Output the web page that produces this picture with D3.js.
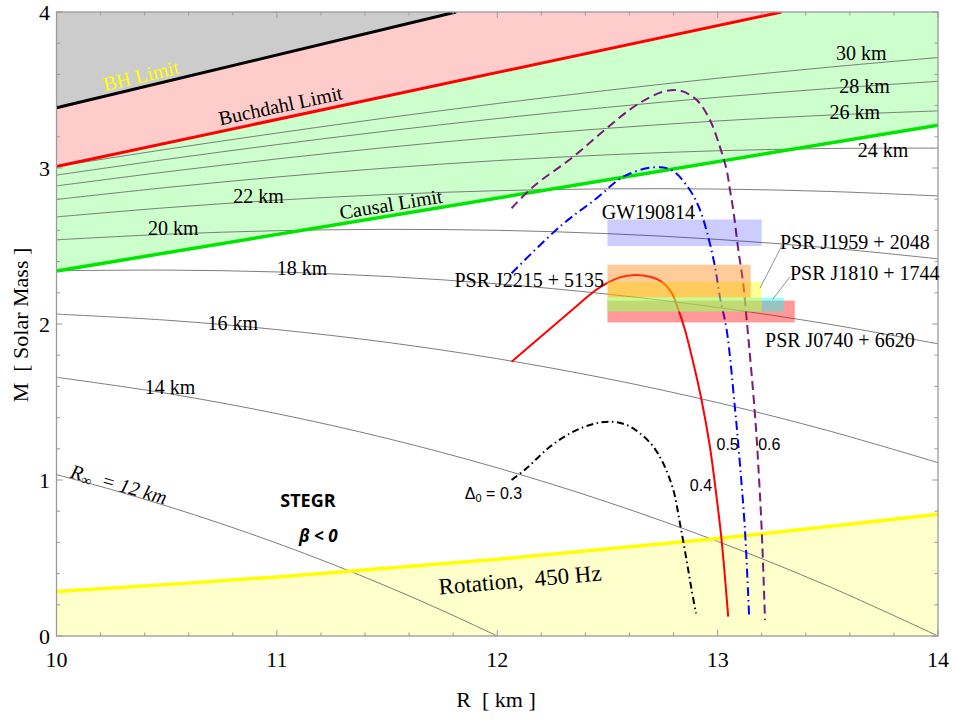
<!DOCTYPE html>
<html>
<head>
<meta charset="utf-8">
<script src="https://cdn.jsdelivr.net/npm/d3@7"></script>
<style>
  body { margin: 0; background: #fff; }
  svg text { font-family: "Liberation Serif", "DejaVu Serif", serif; fill: #000; }
</style>
</head>
<body>
<svg id="chart" width="955" height="720"></svg>
<script>
// ---- Constant R_inf curves (radius grid in km, mass in solar masses) ----
const rGrid = [10, 10.5, 11, 11.5, 12, 12.5, 13, 13.5, 14];
const rGrid12 = [10, 10.25, 10.5, 10.75, 11, 11.25, 11.5, 11.75, 12];
const massRinf12 = [1.0347, 0.9385, 0.8333, 0.7188, 0.5949, 0.4613, 0.3178, 0.1640, 0];
const massRinf14 = [1.6586, 1.5555, 1.4253, 1.2666, 1.0781, 0.8584, 0.6064, 0.3207, 0];
const massRinf16 = [2.0635, 2.0243, 1.9642, 1.8824, 1.7777, 1.6493, 1.4960, 1.3169, 1.1111];
const massRinf18 = [2.3411, 2.3456, 2.3337, 2.3046, 2.2575, 2.1915, 2.1059, 1.9999, 1.8728];
const massRinf20 = [2.5397, 2.5755, 2.5980, 2.6066, 2.6006, 2.5793, 2.5422, 2.4885, 2.4177];
const massRinf22 = [2.6866, 2.7456, 2.7936, 2.8301, 2.8545, 2.8663, 2.8650, 2.8500, 2.8209];
const massRinf24 = [2.7983, 2.8750, 2.9423, 3.0000, 3.0476, 3.0845, 3.1105, 3.1249, 3.1275];
const massRinf26 = [2.8853, 2.9756, 3.0581, 3.1323, 3.1978, 3.2543, 3.3015, 3.3389, 3.3661];
const massRinf28 = [2.9543, 3.0555, 3.1499, 3.2372, 3.3171, 3.3891, 3.4531, 3.5087, 3.5555];
const massRinf30 = [3.0100, 3.1200, 3.2240, 3.3219, 3.4133, 3.4979, 3.5754, 3.6456, 3.7082];

// ---- Limit lines ----
const bhR = [10, 11.813],       bhM = [3.386, 4.0];
const buchR = [10, 13.29],      buchM = [3.010, 4.0];
const causalR = [10, 14],       causalM = [2.34, 3.274];
const rotR = [10, 11, 12, 13, 14];
const rotM = [0.2845, 0.3787, 0.4916, 0.6250, 0.7807];

// ---- STEGR mass-radius curves for Delta_0 = 0.3 ... 0.6 ----
const d03R = [12.065, 12.133, 12.239, 12.345, 12.436, 12.511, 12.587, 12.647, 12.708, 12.753, 12.799, 12.829, 12.859, 12.882, 12.902];
const d03M = [1.000, 1.075, 1.213, 1.310, 1.359, 1.374, 1.353, 1.300, 1.214, 1.107, 0.936, 0.722, 0.487, 0.295, 0.145];
const d04R = [12.065, 12.224, 12.375, 12.443, 12.496, 12.556, 12.624, 12.693, 12.746, 12.791, 12.820, 12.852, 12.890, 12.927, 12.965, 12.995, 13.018, 13.048];
const d04M = [1.758, 1.951, 2.133, 2.213, 2.261, 2.299, 2.314, 2.303, 2.271, 2.201, 2.100, 1.962, 1.748, 1.513, 1.213, 0.893, 0.615, 0.124];
const d05R = [12.065, 12.284, 12.451, 12.572, 12.708, 12.791, 12.874, 12.920, 12.957, 12.988, 13.010, 13.041, 13.078, 13.101, 13.124, 13.143];
const d05M = [2.325, 2.624, 2.806, 2.944, 3.004, 2.987, 2.859, 2.731, 2.560, 2.367, 2.175, 1.962, 1.470, 1.107, 0.679, 0.124];
const d06R = [12.065, 12.163, 12.345, 12.496, 12.632, 12.753, 12.829, 12.905, 12.965, 13.010, 13.041, 13.056, 13.071, 13.094, 13.116, 13.132, 13.169, 13.184, 13.200, 13.215];
const d06M = [2.742, 2.880, 3.072, 3.254, 3.404, 3.489, 3.496, 3.436, 3.308, 3.137, 2.987, 2.859, 2.731, 2.474, 2.261, 2.026, 1.428, 1.107, 0.679, 0.103];

// ---- Observational mass constraints ----
const obsNames = ["PSR J0740 + 6620", "PSR J1810 + 1744", "PSR J1959 + 2048", "PSR J2215 + 5135", "GW190814"];
const obsRLow  = [12.5, 12.5, 12.5, 12.5, 12.5];
const obsRHigh = [13.35, 13.30, 13.20, 13.15, 13.20];
const obsMLow  = [2.01, 2.08, 2.08, 2.17, 2.50];
const obsMHigh = [2.15, 2.17, 2.27, 2.38, 2.67];

// ---- Axis ticks ----
const xTickValues = [10, 11, 12, 13, 14];
const yTickValues = [0, 1, 2, 3, 4];

// ================= drawing =================
const svg = d3.select("#chart");
const x = d3.scaleLinear().domain([10, 14]).range([56.5, 938]);
const y = d3.scaleLinear().domain([0, 4]).range([636, 12]);

const zip = (rs, ms) => rs.map((r, i) => [r, ms[i]]);
const line = d3.line().x(d => x(d[0])).y(d => y(d[1]));
const smooth = d3.line().x(d => x(d[0])).y(d => y(d[1])).curve(d3.curveCatmullRom.alpha(0.5));

svg.append("defs").append("clipPath").attr("id", "plotClip")
  .append("rect").attr("x", x(10)).attr("y", y(4))
  .attr("width", x(14) - x(10)).attr("height", y(0) - y(4));

const plot = svg.append("g").attr("clip-path", "url(#plotClip)");

// shaded regions
const bhPts = zip(bhR, bhM), buchPts = zip(buchR, buchM), causalPts = zip(causalR, causalM);
plot.append("path").attr("d", line([...bhPts, [10, 4]]) + "Z").attr("fill", "#cccccc");
plot.append("path").attr("d", line([...bhPts, [buchR[1], 4], ...buchPts.slice().reverse()]) + "Z").attr("fill", "#ffcccc");
plot.append("path").attr("d", line([...buchPts, [14, 4], ...causalPts.slice().reverse()]) + "Z").attr("fill", "#ccffcc");
const rotPts = zip(rotR, rotM);
plot.append("path").attr("d", smooth(rotPts) + `L${x(14)},${y(0)}L${x(10)},${y(0)}Z`).attr("fill", "#ffffcc");

// constant R_inf curves
const rinfCurves = [
  zip(rGrid12, massRinf12), zip(rGrid, massRinf14), zip(rGrid, massRinf16), zip(rGrid, massRinf18),
  zip(rGrid, massRinf20), zip(rGrid, massRinf22), zip(rGrid, massRinf24), zip(rGrid, massRinf26),
  zip(rGrid, massRinf28), zip(rGrid, massRinf30)
];
plot.selectAll(".rinf").data(rinfCurves).join("path")
  .attr("class", "rinf").attr("d", smooth)
  .attr("fill", "none").attr("stroke", "#6e6e6e").attr("stroke-width", 0.9);

// limit lines
plot.append("path").attr("d", smooth(rotPts)).attr("fill", "none").attr("stroke", "#ffff00").attr("stroke-width", 3.5);
plot.append("path").attr("d", line(causalPts)).attr("fill", "none").attr("stroke", "#00e600").attr("stroke-width", 3.5);
plot.append("path").attr("d", line(buchPts)).attr("fill", "none").attr("stroke", "#ff0000").attr("stroke-width", 3);
plot.append("path").attr("d", line(bhPts)).attr("fill", "none").attr("stroke", "#000000").attr("stroke-width", 3);

// STEGR mass-radius curves
const mrCurves = [
  { pts: zip(d03R, d03M), color: "#000000", dash: "7,3.5,1.5,3.5" },
  { pts: zip(d04R, d04M), color: "#ff0000", dash: null },
  { pts: zip(d05R, d05M), color: "#0000ff", dash: "9,4,1.5,4" },
  { pts: zip(d06R, d06M), color: "#7a1a7a", dash: "9,5" }
];
plot.selectAll(".mr").data(mrCurves).join("path")
  .attr("class", "mr").attr("d", d => smooth(d.pts))
  .attr("fill", "none").attr("stroke", d => d.color).attr("stroke-width", 2)
  .attr("stroke-dasharray", d => d.dash);

// observational bands
const obsFill = ["rgba(255,0,0,0.4)", "rgba(0,255,255,0.4)", "rgba(255,255,0,0.4)", "rgba(255,128,0,0.4)", "rgba(0,0,255,0.2)"];
plot.selectAll(".obs").data(obsNames).join("rect")
  .attr("class", "obs")
  .attr("x", (d, i) => x(obsRLow[i])).attr("width", (d, i) => x(obsRHigh[i]) - x(obsRLow[i]))
  .attr("y", (d, i) => y(obsMHigh[i])).attr("height", (d, i) => y(obsMLow[i]) - y(obsMHigh[i]))
  .attr("fill", (d, i) => obsFill[i]);

// frame and ticks
const frame = svg.append("g");
frame.append("rect").attr("x", x(10)).attr("y", y(4)).attr("width", x(14) - x(10)).attr("height", y(0) - y(4))
  .attr("fill", "none").attr("stroke", "#9a9a9a").attr("stroke-width", 1.3);
const xMinor = d3.range(10, 14.0001, 0.2);
const yMinor = d3.range(0, 4.0001, 0.2);
const isMajor = v => Math.abs(v - Math.round(v)) < 1e-6;
xMinor.forEach(v => {
  const L = isMajor(v) ? 6 : 3.5;
  frame.append("line").attr("x1", x(v)).attr("x2", x(v)).attr("y1", y(0)).attr("y2", y(0) - L).attr("stroke", "#9a9a9a");
  frame.append("line").attr("x1", x(v)).attr("x2", x(v)).attr("y1", y(4)).attr("y2", y(4) + L).attr("stroke", "#9a9a9a");
});
yMinor.forEach(v => {
  const L = isMajor(v) ? 6 : 3.5;
  frame.append("line").attr("x1", x(10)).attr("x2", x(10) + L).attr("y1", y(v)).attr("y2", y(v)).attr("stroke", "#9a9a9a");
  frame.append("line").attr("x1", x(14)).attr("x2", x(14) - L).attr("y1", y(v)).attr("y2", y(v)).attr("stroke", "#9a9a9a");
});
frame.selectAll(".xt").data(xTickValues).join("text").attr("class", "xt")
  .attr("x", d => x(d)).attr("y", 659).attr("text-anchor", "middle").attr("dominant-baseline", "central")
  .attr("font-size", 22).text(d => d);
frame.selectAll(".yt").data(yTickValues).join("text").attr("class", "yt")
  .attr("x", 50).attr("y", d => y(d)).attr("text-anchor", "end").attr("dominant-baseline", "central")
  .attr("font-size", 22).text(d => d);

svg.append("text").attr("x", 496).attr("y", 699).attr("text-anchor", "middle").attr("dominant-baseline", "central")
  .attr("font-size", 22).attr("xml:space", "preserve").text("R  [ km ]");
svg.append("text").attr("transform", "translate(20,325) rotate(-90)").attr("text-anchor", "middle")
  .attr("dominant-baseline", "central").attr("font-size", 22).attr("xml:space", "preserve").text("M  [ Solar Mass ]");

// annotations
const ann = svg.append("g");
const label = (txt, r, m, opts = {}) => {
  const t = ann.append("text")
    .attr("transform", `translate(${x(r)},${y(m)}) rotate(${opts.rot || 0})`)
    .attr("text-anchor", opts.anchor || "middle").attr("dominant-baseline", "central")
    .attr("font-size", opts.size || 20).attr("xml:space", "preserve");
  if (opts.family) t.style("font-family", opts.family);
  if (opts.weight) t.attr("font-weight", opts.weight);
  if (opts.italic) t.attr("font-style", "italic");
  if (opts.fill) t.style("fill", opts.fill);
  t.text(txt);
  return t;
};
const angleOf = (rs, ms) => Math.atan2(y(ms[1]) - y(ms[0]), x(rs[1]) - x(rs[0])) * 180 / Math.PI;

label("BH Limit", 10.383, 3.593, { rot: angleOf(bhR, bhM), size: 20, fill: "#ffff00" });
label("Buchdahl Limit", 11.016, 3.401, { rot: angleOf(buchR, buchM), size: 20 });
label("Causal Limit", 11.517, 2.769, { rot: angleOf(causalR, causalM), size: 20 });

[["30 km", 13.652, 3.737], ["28 km", 13.667, 3.528], ["26 km", 13.622, 3.361], ["24 km", 13.75, 3.115],
 ["22 km", 10.917, 2.821], ["20 km", 10.530, 2.615], ["18 km", 11.114, 2.359], ["16 km", 10.80, 2.006],
 ["14 km", 10.515, 1.593]].forEach(d => label(d[0], d[1], d[2], { size: 20 }));

// R_inf = 12 km label with subscript
const rl = ann.append("text")
  .attr("transform", `translate(${x(10.283)},${y(0.974)}) rotate(16)`)
  .attr("text-anchor", "middle").attr("dominant-baseline", "central").attr("font-size", 20)
  .attr("font-style", "italic").attr("xml:space", "preserve");
rl.append("tspan").text("R");
rl.append("tspan").attr("font-size", 14).attr("dy", 5).text("∞");
rl.append("tspan").attr("dy", -5).text("  = 12 km");

label("STEGR", 11.141, 0.872, { family: "'Open Sans', sans-serif", weight: 700, size: 18 });
label("β < 0", 11.188, 0.647, { family: "'Open Sans', sans-serif", weight: 700, italic: true, size: 17 });
label("Rotation,  450 Hz", 12.103, 0.359, { rot: -5, size: 23 });

label("GW190814", 12.474, 2.715, { anchor: "start", size: 20 });
label("PSR J1959 + 2048", 13.283, 2.528, { anchor: "start", size: 20 });
label("PSR J1810 + 1744", 13.328, 2.327, { anchor: "start", size: 20 });
label("PSR J2215 + 5135", 12.485, 2.282, { anchor: "end", size: 20 });
label("PSR J0740 + 6620", 13.215, 1.897, { anchor: "start", size: 20 });

// pointer lines from pulsar names to their bands
[[13.297, 2.517, 13.192, 2.229], [13.328, 2.303, 13.25, 2.158]].forEach(p => {
  ann.append("line").attr("x1", x(p[0])).attr("y1", y(p[1])).attr("x2", x(p[2])).attr("y2", y(p[3]))
    .attr("stroke", "#888").attr("stroke-width", 0.9);
});

// Delta_0 labels
const sans = "'Liberation Sans', Arial, sans-serif";
const dl = ann.append("text").attr("x", x(11.853)).attr("y", y(0.917)).attr("dominant-baseline", "central")
  .attr("font-size", 16).style("font-family", sans).attr("xml:space", "preserve");
dl.append("tspan").text("Δ");
dl.append("tspan").attr("font-size", 11).attr("dy", 5).text("0");
dl.append("tspan").attr("dy", -5).text(" = 0.3");
label("0.4", 12.874, 0.962, { anchor: "start", family: sans, size: 16 });
label("0.5", 12.995, 1.228, { anchor: "start", family: sans, size: 16 });
label("0.6", 13.184, 1.228, { anchor: "start", family: sans, size: 16 });
</script>
</body>
</html>
